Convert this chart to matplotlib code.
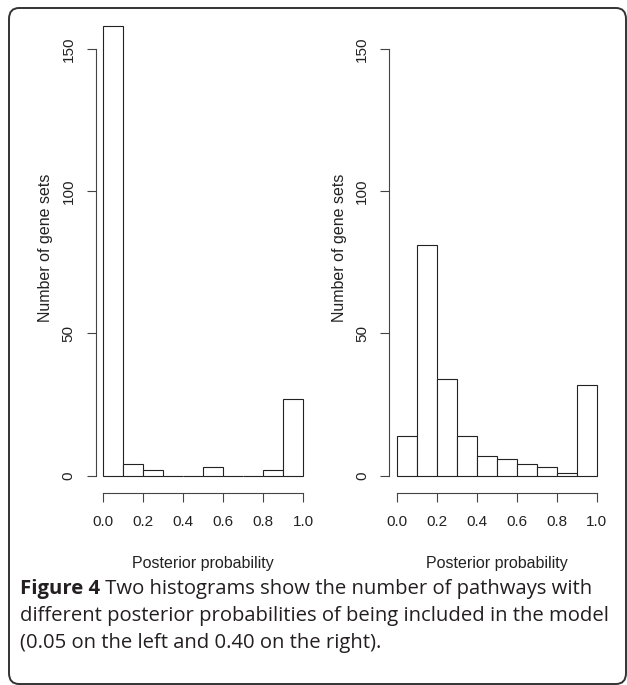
import matplotlib
matplotlib.use("Agg")
import matplotlib.pyplot as plt
from matplotlib.patches import FancyBboxPatch

# histogram bins (posterior probability) and counts
bin_left = [0.0, 0.1, 0.2, 0.3, 0.4, 0.5, 0.6, 0.7, 0.8, 0.9]
counts_left = [158, 4, 2, 0, 0, 3, 0, 0, 2, 27]
counts_right = [14, 81, 34, 14, 7, 6, 4, 3, 1, 32]
x_ticks = [0.0, 0.2, 0.4, 0.6, 0.8, 1.0]
x_tick_labels = ["0.0", "0.2", "0.4", "0.6", "0.8", "1.0"]
y_ticks = [0, 50, 100, 150]

W, H = 627, 685
plt.rcParams["font.family"] = ["Liberation Sans", "DejaVu Sans"]
fig = plt.figure(figsize=(W / 100, H / 100), dpi=100)

def px_axes(x0, y_top, w, h):
    # axes placed by pixel position (from top-left)
    return fig.add_axes([x0 / W, 1 - (y_top + h) / H, w / W, h / H])

def draw_hist(ax, counts):
    ax.bar(bin_left, counts, width=0.1, align="edge", facecolor="white",
           edgecolor="#222222", linewidth=0.8, clip_on=False)
    ax.set_xlim(0, 1)
    ax.set_ylim(0, 150)
    for s in ["top", "right"]:
        ax.spines[s].set_visible(False)
    ax.spines["left"].set_position(("outward", 5.5))
    ax.spines["bottom"].set_position(("outward", 12.8))
    ax.spines["left"].set_bounds(0, 150)
    ax.spines["bottom"].set_bounds(0, 1)
    for s in ["left", "bottom"]:
        ax.spines[s].set_color("#444444")
        ax.spines[s].set_linewidth(0.8)
    ax.set_xticks(x_ticks)
    ax.set_xticklabels(x_tick_labels)
    ax.set_yticks(y_ticks)
    ax.set_yticklabels([str(v) for v in y_ticks], rotation=90, va="center")
    ax.tick_params(length=6.5, width=0.8, color="#444444", labelsize=11,
                   labelcolor="#222222")
    ax.tick_params(axis="y", pad=8)
    ax.tick_params(axis="x", pad=9)
    ax.set_xlabel("Posterior probability", fontsize=11.5, color="#222222", labelpad=19.5)
    ax.set_ylabel("Number of gene sets", fontsize=11.5, color="#222222", va="center")
    ax.yaxis.set_label_coords(-57.3 / 200, (475.7 - 248) / 426.7)

ax1 = px_axes(103.3, 49, 200, 426.7)
draw_hist(ax1, counts_left)

ax2 = px_axes(396.7, 49, 200, 426.7)
draw_hist(ax2, counts_right)

# rounded frame around the figure
frame = FancyBboxPatch((9 / W, 1 - 684 / H), 617 / W, 676 / H,
                       boxstyle="round,pad=0,rounding_size=0.016",
                       transform=fig.transFigure, facecolor="none",
                       edgecolor="#333333", linewidth=1.4)
fig.patches.append(frame)

# caption
cap_font = ["Open Sans", "DejaVu Sans"]
cap_size = 14.6
cap_col = "#231f20"
t = fig.text(20 / W, 1 - 589 / H, "Figure 4", fontsize=cap_size, fontweight="bold",
             family=cap_font, color=cap_col, va="center")
fig.add_artist(plt.Annotation(" Two histograms show the number of pathways with",
                              xy=(1, 0.5), xycoords=t, va="center", ha="left",
                              fontsize=cap_size, family=cap_font, color=cap_col))
fig.text(20 / W, 1 - 616 / H,
         "different posterior probabilities of being included in the model",
         fontsize=cap_size, family=cap_font, color=cap_col, va="center")
fig.text(20 / W, 1 - 643 / H, "(0.05 on the left and 0.40 on the right).",
         fontsize=cap_size, family=cap_font, color=cap_col, va="center")

fig.savefig("out.png", dpi=100)
